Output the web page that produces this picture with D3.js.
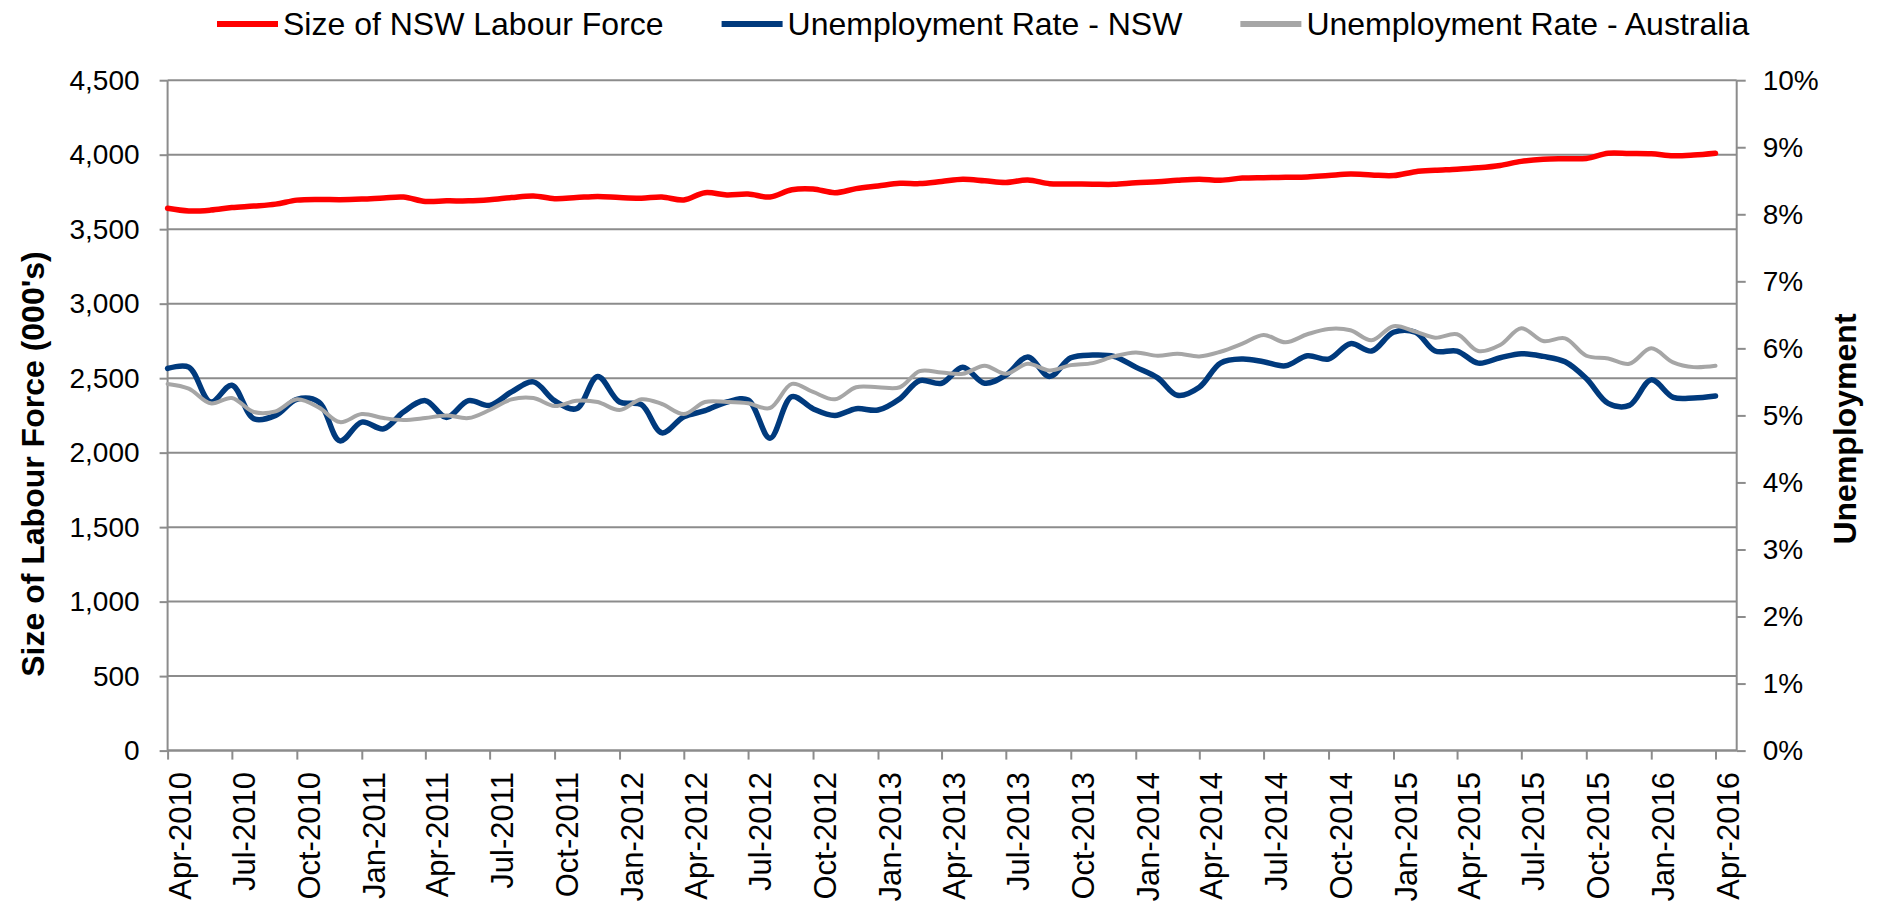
<!DOCTYPE html>
<html>
<head>
<meta charset="utf-8">
<script src="https://cdn.jsdelivr.net/npm/d3@7"></script>
<style>
  body { margin: 0; background: #fff; }
  svg { display: block; font-family: "Liberation Sans", Arial, sans-serif; }
  .axis path, .axis line { stroke: #8c8c8c; stroke-width: 2; }
  .axis text { fill: #000; }
</style>
</head>
<body>
<svg id="chart" width="1877" height="904"></svg>
<script>
// monthly categories, Apr-2010 .. Apr-2016
const months = d3.utcMonth.range(new Date(Date.UTC(2010, 3, 1)), new Date(Date.UTC(2016, 4, 1)));

// size of NSW labour force (000's)
const labourForce = [
  3640, 3622, 3628, 3645, 3655, 3668, 3695, 3700, 3698, 3702,
  3710, 3716, 3686, 3690, 3690, 3698, 3712, 3723, 3705, 3712,
  3720, 3712, 3708, 3716, 3696, 3745, 3730, 3736, 3716, 3765,
  3770, 3745, 3772, 3790, 3808, 3806, 3820, 3835, 3825, 3814,
  3830, 3805, 3804, 3802, 3801, 3812, 3818, 3828, 3835, 3828,
  3843, 3846, 3848, 3850, 3860, 3870, 3864, 3860, 3886, 3895,
  3902, 3912, 3928, 3955, 3970, 3973, 3975, 4010, 4008, 4006,
  3993, 3998, 4010
];

// unemployment rate NSW (%)
const rateNSW = [
  5.70, 5.72, 5.20, 5.45, 4.95, 5.00, 5.24, 5.20, 4.62, 4.90,
  4.80, 5.05, 5.22, 4.97, 5.22, 5.15, 5.35, 5.50, 5.22, 5.10,
  5.58, 5.20, 5.16, 4.74, 4.98, 5.07, 5.20, 5.23, 4.66, 5.28,
  5.10, 5.00, 5.10, 5.08, 5.25, 5.52, 5.48, 5.72, 5.48, 5.60,
  5.87, 5.58, 5.86, 5.90, 5.88, 5.72, 5.56, 5.30, 5.42, 5.78,
  5.84, 5.80, 5.74, 5.89, 5.84, 6.07, 5.96, 6.24, 6.24, 5.96,
  5.96, 5.78, 5.86, 5.92, 5.88, 5.80, 5.55, 5.18, 5.15, 5.53,
  5.27, 5.26, 5.29
];

// unemployment rate Australia (%)
const rateAus = [
  5.47, 5.40, 5.18, 5.26, 5.05, 5.06, 5.24, 5.12, 4.90, 5.02,
  4.96, 4.93, 4.96, 5.00, 4.96, 5.08, 5.24, 5.26, 5.14, 5.22,
  5.20, 5.08, 5.24, 5.17, 5.02, 5.20, 5.20, 5.18, 5.11, 5.47,
  5.35, 5.24, 5.42, 5.42, 5.42, 5.66, 5.64, 5.62, 5.74, 5.62,
  5.77, 5.67, 5.75, 5.78, 5.88, 5.94, 5.89, 5.92, 5.88, 5.95,
  6.07, 6.20, 6.09, 6.21, 6.29, 6.27, 6.12, 6.33, 6.25, 6.16,
  6.21, 5.96, 6.05, 6.30, 6.11, 6.15, 5.89, 5.85, 5.77, 6.00,
  5.79, 5.72, 5.74
];

const leftTicks = d3.range(0, 4501, 500);
const rightTicks = d3.range(0, 11, 1);

const series = [
  { name: 'Size of NSW Labour Force', values: labourForce, axis: 'left', color: '#ff0000', width: 5.5 },
  { name: 'Unemployment Rate - NSW', values: rateNSW, axis: 'right', color: '#003a7d', width: 5.5 },
  { name: 'Unemployment Rate - Australia', values: rateAus, axis: 'right', color: '#a6a6a6', width: 4 },
];

const svg = d3.select('#chart');
const area = { left: 167.6, right: 1736.7, top: 80.2, bottom: 750.6 };

const x = d3.scaleUtc()
  .domain([months[0], d3.utcMonth.offset(months[months.length - 1], 1)])
  .range([area.left, area.right]);

const yLeft = d3.scaleLinear().domain([0, 4500]).range([area.bottom, area.top]);
const yRight = d3.scaleLinear().domain([0, 10]).range([area.bottom, area.top]);

// gridlines
svg.append('g')
  .selectAll('line')
  .data(leftTicks)
  .join('line')
  .attr('x1', area.left)
  .attr('x2', area.right)
  .attr('y1', (d) => yLeft(d))
  .attr('y2', (d) => yLeft(d))
  .attr('stroke', '#8c8c8c')
  .attr('stroke-width', 2);

// left axis
svg.append('g')
  .attr('class', 'axis')
  .attr('transform', `translate(${area.left},0)`)
  .call(d3.axisLeft(yLeft).tickValues(leftTicks).tickSize(8).tickPadding(20).tickFormat(d3.format(',')))
  .call((g) => g.selectAll('text').style('font-size', '28px'))
  .call((g) => g.select('.domain').attr('d', `M0,${area.bottom}V${area.top}`));

// right axis
svg.append('g')
  .attr('class', 'axis')
  .attr('transform', `translate(${area.right},0)`)
  .call(d3.axisRight(yRight).tickValues(rightTicks).tickSize(9).tickPadding(17).tickFormat((d) => d + '%'))
  .call((g) => g.selectAll('text').style('font-size', '28px'))
  .call((g) => g.select('.domain').attr('d', `M0,${area.bottom}V${area.top}`));

// bottom axis
svg.append('g')
  .attr('class', 'axis')
  .attr('transform', `translate(0,${area.bottom})`)
  .call(d3.axisBottom(x).ticks(d3.utcMonth.every(3)).tickSize(9).tickFormat(d3.utcFormat('%b-%Y')))
  .call((g) => g.select('.domain').attr('d', `M${area.left},0H${area.right}`))
  .call((g) => g.selectAll('text')
    .style('font-size', '31px')
    .attr('text-anchor', 'end')
    .attr('transform', 'rotate(-90)')
    .attr('x', -21.5)
    .attr('y', 22.5)
    .attr('dy', 0));

// lines
for (const s of series) {
  const y = s.axis === 'left' ? yLeft : yRight;
  const line = d3.line()
    .x((d, i) => x(months[i]))
    .y((d) => y(d))
    .curve(d3.curveCatmullRom.alpha(0.5));
  svg.append('path')
    .datum(s.values)
    .attr('fill', 'none')
    .attr('stroke', s.color)
    .attr('stroke-width', s.width)
    .attr('stroke-linejoin', 'round')
    .attr('stroke-linecap', 'round')
    .attr('d', line);
}

// axis titles
svg.append('text')
  .attr('transform', 'translate(44,464) rotate(-90)')
  .attr('text-anchor', 'middle')
  .style('font-size', '32px')
  .style('font-weight', 'bold')
  .text("Size of Labour Force (000's)");

svg.append('text')
  .attr('transform', 'translate(1856,429) rotate(-90)')
  .attr('text-anchor', 'middle')
  .style('font-size', '32px')
  .style('font-weight', 'bold')
  .text('Unemployment');

// legend
const legend = svg.append('g').attr('transform', 'translate(217,24)');
let lx = 0;
series.forEach((s) => {
  legend.append('line')
    .attr('x1', lx).attr('x2', lx + 61)
    .attr('y1', 0).attr('y2', 0)
    .attr('stroke', s.color)
    .attr('stroke-width', 6);
  const t = legend.append('text')
    .attr('x', lx + 66)
    .attr('dy', '0.35em')
    .style('font-size', '32px')
    .text(s.name);
  lx += 66 + t.node().getComputedTextLength() + 58;
});
</script>
</body>
</html>
